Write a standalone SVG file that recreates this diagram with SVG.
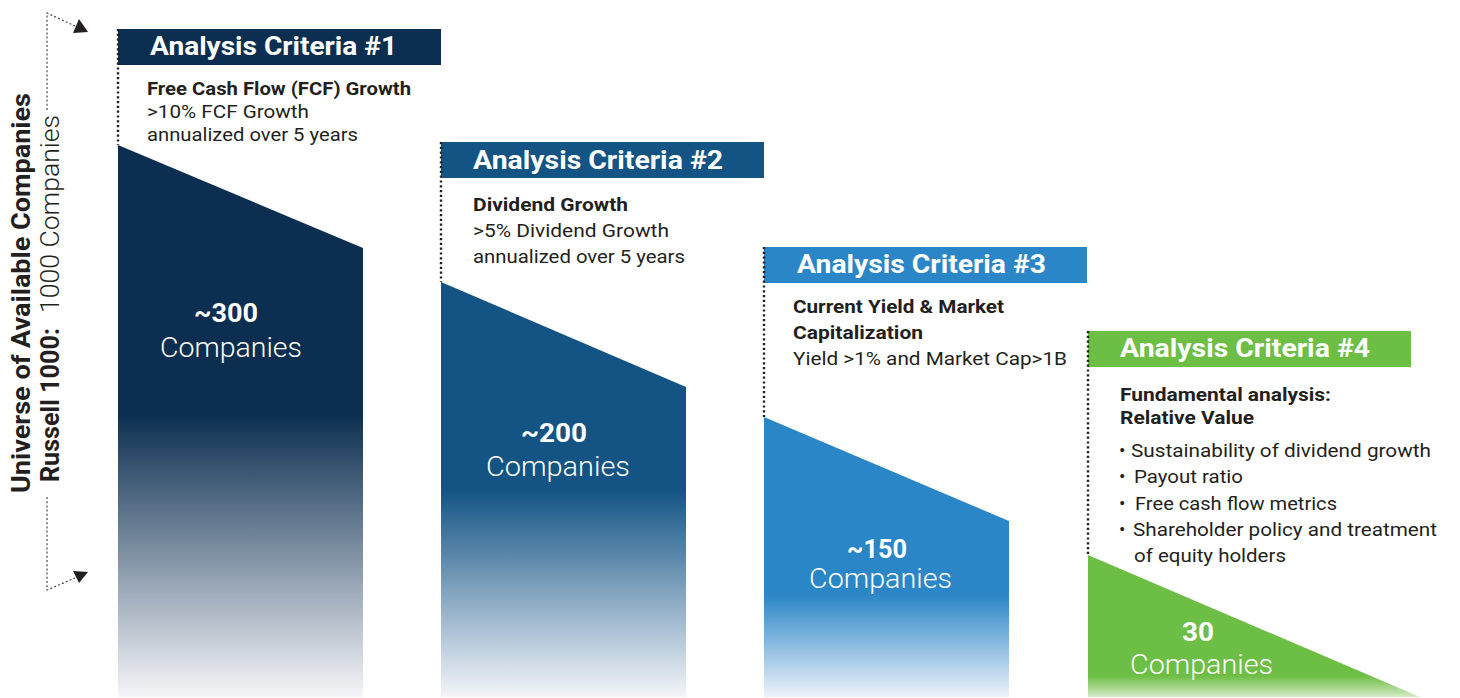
<svg xmlns="http://www.w3.org/2000/svg" width="1460" height="698" viewBox="0 0 1460 698">
<style>
text{font-family:Roboto,"Liberation Sans","DejaVu Sans",sans-serif}
.hd{font-weight:700;font-size:26px;fill:#ffffff}
.b{font-weight:700;font-size:19px;fill:#231f20}
.r{font-weight:400;font-size:19px;fill:#231f20}
.num{font-weight:700;font-size:26px;fill:#ffffff}
.co{font-weight:300;font-size:28px;fill:#ffffff}
.vb{font-weight:700;font-size:26px;fill:#231f20}
.vl{font-weight:300;font-size:26px;fill:#231f20}
.dot{fill:none;stroke:#231f20;stroke-width:2.4;stroke-dasharray:2.2 2.6}
.arr{fill:none;stroke:#444;stroke-width:1.2;stroke-dasharray:2 2.2}
.ah{fill:#231f20}
</style>
<defs>
<linearGradient id="g1" gradientUnits="userSpaceOnUse" x1="0" y1="415" x2="0" y2="698">
<stop offset="0" stop-color="#0c2f51"/><stop offset="1" stop-color="#f6f6f9"/>
</linearGradient>
<linearGradient id="g2" gradientUnits="userSpaceOnUse" x1="0" y1="490" x2="0" y2="698">
<stop offset="0" stop-color="#135485"/><stop offset="1" stop-color="#f5f6fa"/>
</linearGradient>
<linearGradient id="g3" gradientUnits="userSpaceOnUse" x1="0" y1="595" x2="0" y2="698">
<stop offset="0" stop-color="#2b86c7"/><stop offset="1" stop-color="#f0f4fa"/>
</linearGradient>
<linearGradient id="g4" gradientUnits="userSpaceOnUse" x1="0" y1="676" x2="0" y2="698">
<stop offset="0" stop-color="#6dbe45"/><stop offset="1" stop-color="#d8eecb"/>
</linearGradient>
</defs>
<rect x="0" y="0" width="1460" height="698" fill="#ffffff"/>

<g id="universe">
<text class="vb" transform="translate(30,493) rotate(-90)" textLength="400" lengthAdjust="spacingAndGlyphs">Universe of Available Companies</text>
<text class="vb" transform="translate(59,482) rotate(-90)" textLength="154" lengthAdjust="spacingAndGlyphs">Russell 1000:</text>
<text class="vl" transform="translate(59,313) rotate(-90)" textLength="198" lengthAdjust="spacingAndGlyphs">1000 Companies</text>
</g>

<g id="criteria1">
<polygon points="118,145 363,248 363,697 118,697" fill="url(#g1)"/>
<rect x="118" y="29" width="323" height="36" fill="#0c2f51"/>
<text class="hd" x="150" y="55" textLength="247" lengthAdjust="spacingAndGlyphs">Analysis Criteria #1</text>
<text class="b" x="147" y="95" textLength="264" lengthAdjust="spacingAndGlyphs">Free Cash Flow (FCF) Growth</text>
<text class="r" x="147" y="118" textLength="162" lengthAdjust="spacingAndGlyphs">&gt;10% FCF Growth</text>
<text class="r" x="147" y="141" textLength="211" lengthAdjust="spacingAndGlyphs">annualized over 5 years</text>
<text class="num" x="194" y="322" textLength="64" lengthAdjust="spacingAndGlyphs">~300</text>
<text class="co" x="160" y="357" textLength="142" lengthAdjust="spacingAndGlyphs">Companies</text>
</g>

<g id="criteria2">
<polygon points="441,282 686,387 686,697 441,697" fill="url(#g2)"/>
<rect x="441" y="142" width="323" height="36" fill="#135485"/>
<text class="hd" x="473" y="169" textLength="250" lengthAdjust="spacingAndGlyphs">Analysis Criteria #2</text>
<text class="b" x="473" y="211" textLength="155" lengthAdjust="spacingAndGlyphs">Dividend Growth</text>
<text class="r" x="473" y="237" textLength="196" lengthAdjust="spacingAndGlyphs">&gt;5% Dividend Growth</text>
<text class="r" x="473" y="263" textLength="212" lengthAdjust="spacingAndGlyphs">annualized over 5 years</text>
<text class="num" x="521" y="442" textLength="66" lengthAdjust="spacingAndGlyphs">~200</text>
<text class="co" x="486" y="476" textLength="144" lengthAdjust="spacingAndGlyphs">Companies</text>
</g>

<g id="criteria3">
<polygon points="764,417 1009,521 1009,697 764,697" fill="url(#g3)"/>
<rect x="764" y="247" width="323" height="36" fill="#2b86c7"/>
<text class="hd" x="797" y="273" textLength="249" lengthAdjust="spacingAndGlyphs">Analysis Criteria #3</text>
<text class="b" x="793" y="313" textLength="211" lengthAdjust="spacingAndGlyphs">Current Yield &amp; Market</text>
<text class="b" x="793" y="339" textLength="130" lengthAdjust="spacingAndGlyphs">Capitalization</text>
<text class="r" x="793" y="365" textLength="274" lengthAdjust="spacingAndGlyphs">Yield &gt;1% and Market Cap&gt;1B</text>
<text class="num" x="847" y="558" textLength="60" lengthAdjust="spacingAndGlyphs">~150</text>
<text class="co" x="809" y="588" textLength="143" lengthAdjust="spacingAndGlyphs">Companies</text>
</g>

<g id="criteria4">
<polygon points="1088,555 1420,697 1088,697" fill="url(#g4)"/>
<rect x="1088" y="331" width="323" height="36" fill="#6dbe45"/>
<text class="hd" x="1120" y="357" textLength="250" lengthAdjust="spacingAndGlyphs">Analysis Criteria #4</text>
<text class="b" x="1120" y="401" textLength="211" lengthAdjust="spacingAndGlyphs">Fundamental analysis:</text>
<text class="b" x="1120" y="424" textLength="134" lengthAdjust="spacingAndGlyphs">Relative Value</text>
<text class="r" x="1119" y="457">•</text>
<text class="r" x="1131" y="457" textLength="300" lengthAdjust="spacingAndGlyphs">Sustainability of dividend growth</text>
<text class="r" x="1119" y="483">•</text>
<text class="r" x="1134" y="483" textLength="109" lengthAdjust="spacingAndGlyphs">Payout ratio</text>
<text class="r" x="1119" y="510">•</text>
<text class="r" x="1135" y="510" textLength="202" lengthAdjust="spacingAndGlyphs">Free cash flow metrics</text>
<text class="r" x="1119" y="536">•</text>
<text class="r" x="1133" y="536" textLength="304" lengthAdjust="spacingAndGlyphs">Shareholder policy and treatment</text>
<text class="r" x="1134" y="562" textLength="152" lengthAdjust="spacingAndGlyphs">of equity holders</text>
<text class="num" x="1182" y="641" font-size="25" textLength="32" lengthAdjust="spacingAndGlyphs">30</text>
<text class="co" x="1130" y="674" textLength="143" lengthAdjust="spacingAndGlyphs">Companies</text>
</g>

<g id="connectors">
<line class="dot" x1="118" y1="29" x2="118" y2="145"/>
<line class="dot" x1="441" y1="142" x2="441" y2="282"/>
<line class="dot" x1="764" y1="247" x2="764" y2="417"/>
<line class="dot" x1="1088" y1="331" x2="1088" y2="555"/>
<polyline class="arr" points="47,110 47,13 75,26"/>
<polygon class="ah" points="73,33 79,19 88,32"/>
<polyline class="arr" points="47,497 47,590 75,578"/>
<polygon class="ah" points="73,571 88,572 79,583"/>
</g>
</svg>
